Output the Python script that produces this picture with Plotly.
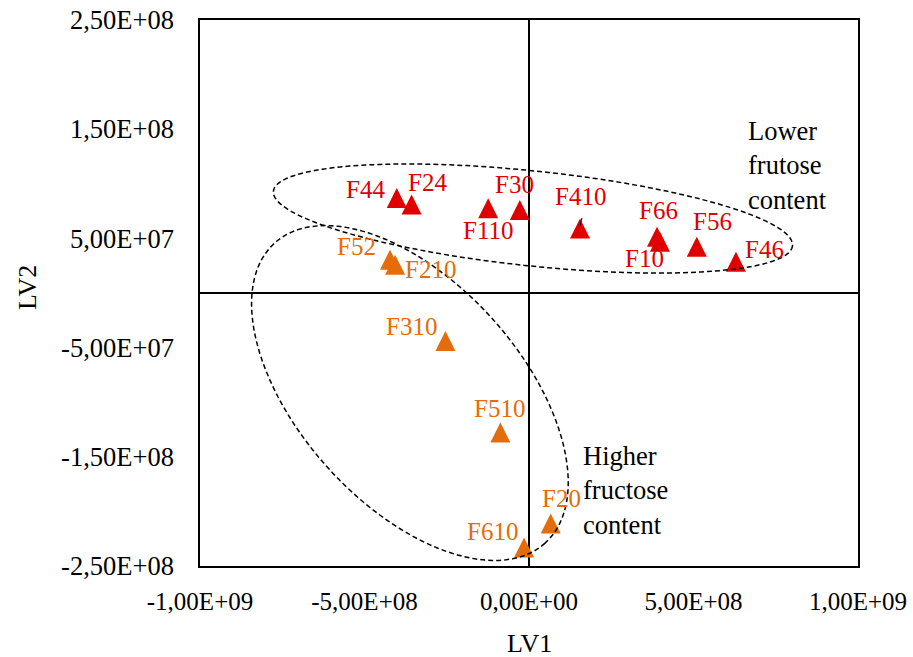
import numpy as np
import plotly.graph_objects as go

# ---------------- data ----------------
low_names = ["F44", "F24", "F110", "F30", "F410", "F66", "F10", "F56", "F46"]
low_lv1 = [-4.02e8, -3.57e8, -1.24e8, -0.28e8, 1.55e8, 3.89e8, 3.98e8, 5.10e8, 6.29e8]
low_lv2 = [8.4e7, 7.8e7, 7.45e7, 7.3e7, 5.6e7, 4.85e7, 4.4e7, 3.94e7, 2.56e7]

high_names = ["F52", "F210", "F310", "F510", "F20", "F610"]
high_lv1 = [-4.225e8, -4.07e8, -2.54e8, -0.87e8, 0.66e8, -0.15e8]
high_lv2 = [2.75e7, 2.29e7, -4.7e7, -1.307e8, -2.14e8, -2.36e8]

x_tickvals = [-1e9, -5e8, 0, 5e8, 1e9]
x_ticktext = ["-1,00E+09", "-5,00E+08", "0,00E+00", "5,00E+08", "1,00E+09"]
y_tickvals = [2.5e8, 1.5e8, 5e7, -5e7, -1.5e8, -2.5e8]
y_ticktext = ["2,50E+08", "1,50E+08", "5,00E+07", "-5,00E+07", "-1,50E+08", "-2,50E+08"]

# ---------------- styling ----------------
W, H = 913, 657
ML, MR, MT, MB = 200, 55, 20, 91
XR = [-1e9, 1e9]
YR = [-2.5e8, 2.5e8]
FONT = "Liberation Serif"
RED = "#E00000"
ORANGE = "#E46C0A"

# label offsets in px (dx right, dy up)
label_off = {
    "F44": (-31, 12), "F24": (16, 25), "F110": (0, -19), "F30": (-5, 29),
    "F410": (0, 35), "F66": (2, 30), "F10": (-15, -14), "F56": (16, 28),
    "F46": (29, 16), "F52": (-34, 16), "F210": (35, -2), "F310": (-34, 18),
    "F510": (-1, 27), "F20": (11, 28), "F610": (-32, 19),
}

fig = go.Figure()

marker_common = dict(symbol="arrow-down", angle=180, standoff=13.3, size=20,
                     line=dict(width=0))

fig.add_trace(go.Scatter(x=low_lv1, y=low_lv2, mode="markers", name="Lower",
                         marker=dict(color=RED, **marker_common), showlegend=False))
fig.add_trace(go.Scatter(x=high_lv1, y=high_lv2, mode="markers", name="Higher",
                         marker=dict(color=ORANGE, **marker_common), showlegend=False))

annotations = []
for names, xs, ys, col in [(low_names, low_lv1, low_lv2, RED),
                           (high_names, high_lv1, high_lv2, ORANGE)]:
    for n, x, y in zip(names, xs, ys):
        dx, dy = label_off[n]
        annotations.append(dict(x=x, y=y, xref="x", yref="y", text=n, showarrow=False,
                                xshift=dx, yshift=dy, xanchor="center", yanchor="middle",
                                font=dict(family=FONT, size=25, color=col)))

annotations.append(dict(x=0.66e9, y=1.172e8, xref="x", yref="y",
                        text="Lower<br>frutose<br>content", showarrow=False,
                        xanchor="left", yanchor="middle", align="left",
                        font=dict(family=FONT, size=26.5, color="black")))
annotations.append(dict(x=0.158e9, y=-1.804e8, xref="x", yref="y",
                        text="Higher<br>fructose<br>content", showarrow=False,
                        xanchor="left", yanchor="middle", align="left",
                        font=dict(family=FONT, size=26.5, color="black")))

PW = W - ML - MR
PH = H - MT - MB
annotations.append(dict(x=0.5, y=(MT + PH - 643) / PH, xref="paper", yref="paper",
                        text="LV1", showarrow=False, xanchor="center", yanchor="middle",
                        font=dict(family=FONT, size=26, color="black")))
annotations.append(dict(x=(27 - ML) / PW, y=(MT + PH - 287) / PH, xref="paper", yref="paper",
                        text="LV2", showarrow=False, textangle=-90,
                        xanchor="center", yanchor="middle",
                        font=dict(family=FONT, size=26, color="black")))

# dashed ellipses (center in data units, semi-axes in px, tilt in screen degrees)
sx = PW / (XR[1] - XR[0])
sy = PH / (YR[1] - YR[0])


def ellipse_path(cx, cy, a, b, theta_deg, n=120):
    th = np.radians(theta_deg)
    t = np.linspace(0, 2 * np.pi, n)
    u = a * np.cos(t)
    v = b * np.sin(t)
    dx = u * np.cos(th) - v * np.sin(th)
    dy = u * np.sin(th) + v * np.cos(th)
    xs = cx + dx / sx
    ys = cy - dy / sy
    p = "M " + " L ".join(f"{x:.6g},{y:.6g}" for x, y in zip(xs, ys)) + " Z"
    return p


shapes = [
    dict(type="path", xref="x", yref="y", path=ellipse_path(0.012e9, 0.682e8, 261, 47.5, 6),
         line=dict(color="black", width=1.5, dash="5px,3px")),
    dict(type="path", xref="x", yref="y", path=ellipse_path(-0.362e9, -0.916e8, 202, 111, 48),
         line=dict(color="black", width=1.5, dash="5px,3px")),
]

# small leader line on F410 (anchored to the point, offsets in px)
i410 = low_names.index("F410")
shapes.append(dict(type="line", xref="x", yref="y", xsizemode="pixel", ysizemode="pixel",
                   xanchor=low_lv1[i410], yanchor=low_lv2[i410],
                   x0=0, y0=6, x1=2, y1=14, line=dict(color="black", width=1)))

axis_common = dict(showgrid=False, zeroline=True, zerolinecolor="black", zerolinewidth=1.5,
                   showline=True, linecolor="black", linewidth=1.5, mirror=True, ticks="",
                   tickmode="array")

fig.update_layout(
    width=W, height=H,
    margin=dict(l=ML, r=MR, t=MT, b=MB, autoexpand=False),
    paper_bgcolor="white", plot_bgcolor="white",
    xaxis=dict(range=XR, tickvals=x_tickvals, ticktext=x_ticktext,
               tickfont=dict(family=FONT, size=25, color="black"),
               ticklabelstandoff=12, **axis_common),
    yaxis=dict(range=YR, tickvals=y_tickvals, ticktext=y_ticktext,
               tickfont=dict(family=FONT, size=26.5, color="black"),
               ticklabelstandoff=19, **axis_common),
    annotations=annotations,
    shapes=shapes,
    showlegend=False,
)

fig.write_html("out.html")
